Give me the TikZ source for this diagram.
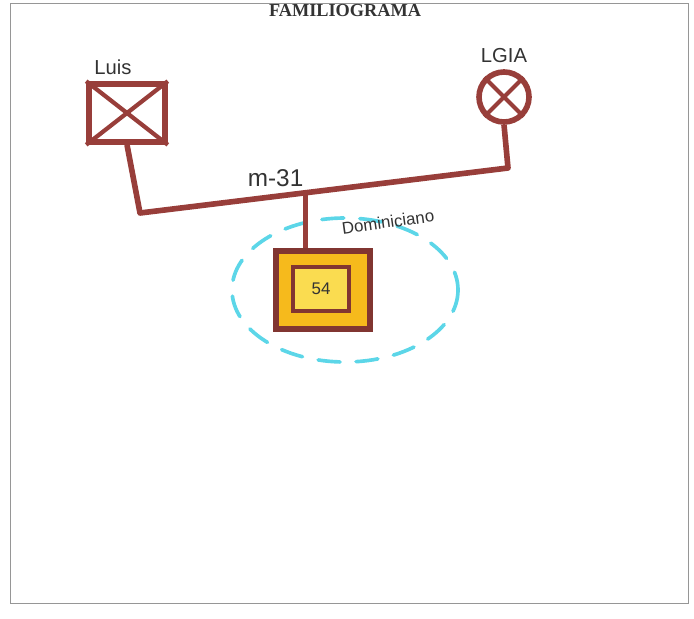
\documentclass[tikz,border=0pt]{standalone}
\usepackage{fontspec}
\setmainfont{Liberation Serif}
\setsansfont{Liberation Sans}
\usepackage{xcolor}
\usepackage{tikz}
\usetikzlibrary{
  arrows.meta,
  calc,
  positioning,
  shapes.geometric
}
\definecolor{marker}{RGB}{152,62,58}
\definecolor{gold}{RGB}{246,186,28}
\definecolor{lightgold}{RGB}{250,220,80}
\definecolor{sky}{RGB}{92,214,232}
\definecolor{frame}{RGB}{150,150,150}
\tikzset{
  hand/.style={ font=\sffamily\Large, text=black!80 },
  male/.style={
    rectangle,
    draw=marker,
    line width=4pt,
    minimum width=1.9cm,
    minimum height=1.45cm
  },
  female/.style={
    circle,
    draw=marker,
    line width=4pt,
    minimum size=1.25cm
  },
  index/.style={
    rectangle,
    draw=marker!85!black,
    fill=gold,
    line width=4pt,
    minimum width=2.35cm,
    minimum height=1.95cm
  },
  inner/.style={
    rectangle,
    draw=marker!85!black,
    fill=lightgold,
    line width=3.5pt,
    minimum width=1.4cm,
    minimum height=1.1cm,
    font=\sffamily\large
  },
  tie/.style={
    draw=marker,
    line width=4pt,
    line join=round
  },
  home/.style={
    draw=sky,
    line width=2.6pt,
    dash pattern=on 0.55cm off 0.4cm,
    line cap=round
  }
}
\begin{document}
\begin{tikzpicture}[x=0.025cm, y=-0.025cm, hand, node distance=0.1cm]
  \useasboundingbox (0,0) rectangle (694,618);
  \draw[frame, line width=0.6pt] (10,3) rectangle (688,603);
  \node[font=\rmfamily\bfseries\fontsize{13}{15}\selectfont, text=black!80] (title) at (345,11) {FAMILIOGRAMA};

  \node[male] (luis) at (127,113) {};
  \draw[marker, line width=3pt] (luis.north west) -- (luis.south east);
  \draw[marker, line width=3pt] (luis.north east) -- (luis.south west);
  \node[above=0.05cm of luis, xshift=-0.35cm] (luisname) {Luis};

  \node[female] (ligia) at (504,97) {};
  \draw[marker, line width=3pt] (ligia.north west) -- (ligia.south east);
  \draw[marker, line width=3pt] (ligia.north east) -- (ligia.south west);
  \node[above=0.05cm of ligia] (ligianame) {LGIA};

  \coordinate (mleft) at (140,213);
  \coordinate (mright) at (508,168);
  \coordinate (mchild) at ($(mleft)!0.45!(mright)$);
  \draw[tie] (luis.south) -- (mleft) -- (mright) -- (ligia.south);
  \node[above=0.02cm of mchild, xshift=-0.75cm, font=\sffamily\LARGE] (mlabel) {m-31};

  \draw[home] (345,290) ellipse [x radius=113, y radius=72];
  \node[index] (child) at (323,290) {};
  \node[inner] (age) at (321,289) {54};
  \draw[tie] (mchild) -- (child.north -| mchild);
  \node[rotate=8, font=\sffamily\large] (childname) at (388,222) {Dominiciano};
\end{tikzpicture}
\end{document}
